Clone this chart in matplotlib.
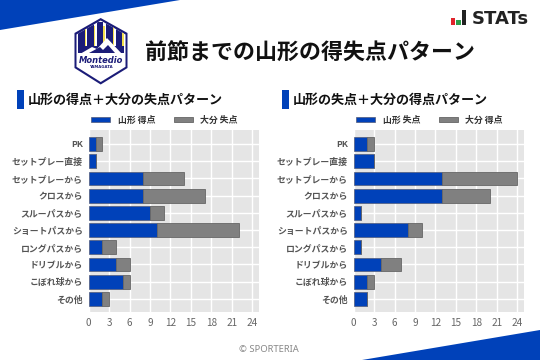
import numpy as np
from matplotlib import pyplot as plt
from matplotlib import patches as mpatches

plt.rcParams['font.family'] = ['Noto Sans CJK JP', 'DejaVu Sans']

W, H = 540, 360
BLUE = '#0041b9'
GRAY = '#808080'
NAVY = '#1b1c78'

categories = ['PK', 'セットプレー直接', 'セットプレーから', 'クロスから', 'スルーパスから',
              'ショートパスから', 'ロングパスから', 'ドリブルから', 'こぼれ球から', 'その他']
xticks = [0, 3, 6, 9, 12, 15, 18, 21, 24]

yamagata_scored = [1, 1, 8, 8, 9, 10, 2, 4, 5, 2]
oita_conceded = [1, 0, 6, 9, 2, 12, 2, 2, 1, 1]
yamagata_conceded = [2, 3, 13, 13, 1, 8, 1, 4, 2, 2]
oita_scored = [1, 0, 11, 7, 0, 2, 0, 3, 1, 0]


def px_axes(fig, x0, y0, x1, y1):
    # axes from pixel box, y counted from the top of the image
    return fig.add_axes([x0 / W, 1 - y1 / H, (x1 - x0) / W, (y1 - y0) / H])


def draw_panel(fig, box, blue_vals, gray_vals, blue_label, gray_label):
    ax = px_axes(fig, *box)
    ax.set_facecolor('#e5e5e5')
    y = np.arange(len(categories))
    ax.barh(y, blue_vals, height=0.8, color=BLUE, edgecolor='#505a78', linewidth=0.5,
            label=blue_label, zorder=3)
    ax.barh(y, gray_vals, left=blue_vals, height=0.8, color=GRAY, edgecolor='#666666',
            linewidth=0.6, label=gray_label, zorder=3)
    ax.set_xlim(0, 25)
    ax.set_ylim(9.73, -0.84)
    ax.set_xticks(xticks)
    ax.set_yticks(y, categories)
    ax.grid(color='white', linewidth=1.0, zorder=1)
    ax.set_axisbelow(True)
    ax.tick_params(axis='x', length=0, labelsize=7.2, labelcolor='#666666', pad=4.5)
    ax.tick_params(axis='y', length=0, labelsize=6.4, labelcolor='#555555', pad=4.2)
    for lab in ax.get_yticklabels():
        lab.set_fontweight('bold')
    for s in ax.spines.values():
        s.set_visible(False)
    ax.legend(loc='lower left', bbox_to_anchor=(0.0, 1.012), ncol=2, frameon=False,
              prop={'size': 6.4, 'weight': 'bold'}, labelcolor='#333333',
              handlelength=2.15, handleheight=0.55, handletextpad=0.8, columnspacing=2.1,
              borderaxespad=0.1, borderpad=0.2)
    return ax


def draw_decor(bg):
    # corner wedges
    bg.add_patch(mpatches.Polygon([(0, 0), (180, 0), (0, 30)], color=BLUE, lw=0))
    bg.add_patch(mpatches.Polygon([(362, 360), (540, 330), (540, 360)], color=BLUE, lw=0))

    # club crest
    hex_out = [(100.7, 18), (127.5, 33), (127.5, 68), (100.7, 84.5), (74.5, 68), (74.5, 33)]
    hex_in = [(100.7, 20.5), (125.5, 34.5), (125.5, 66.8), (100.7, 82), (76.5, 66.8), (76.5, 34.5)]
    bg.add_patch(mpatches.Polygon(hex_out, color=NAVY, lw=0))
    inner = mpatches.Polygon(hex_in, color='white', lw=0)
    bg.add_patch(inner)
    for x in [78, 87, 96.5, 106, 115.5]:
        navy = mpatches.Rectangle((x, 22), 6.5, 30, color=NAVY, lw=0)
        bg.add_patch(navy)
        navy.set_clip_path(inner)
        yellow = mpatches.Rectangle((x + 6.5, 26), 1.8, 24, color='#f4e04d', lw=0)
        bg.add_patch(yellow)
        yellow.set_clip_path(inner)
    bg.add_patch(mpatches.Polygon([(78, 46), (124, 46), (124, 53), (78, 53)], color=NAVY, lw=0))
    bg.add_patch(mpatches.Polygon([(80, 54), (92, 47), (97, 49), (107, 38), (122, 54)],
                                  color='white', lw=0))
    bg.add_patch(mpatches.Polygon([(89, 53), (100, 47), (103, 50), (108, 45), (115, 53)],
                                  color=NAVY, lw=0))
    bg.text(100.7, 60.5, 'Montedio', ha='center', va='center', fontsize=6.0, color=NAVY,
            fontweight='bold', style='italic', family='DejaVu Sans')
    bg.text(100.7, 67.5, 'YAMAGATA', ha='center', va='center', fontsize=2.8, color=NAVY,
            fontweight='bold', family='DejaVu Sans')

    # STATs mark
    bg.add_patch(mpatches.Rectangle((450.5, 17.5), 4.5, 7, color='#e0242c', lw=0))
    bg.add_patch(mpatches.Rectangle((456, 20), 4.5, 4.5, color='#2a9d4a', lw=0))
    bg.add_patch(mpatches.Rectangle((461.5, 10), 4.5, 14.5, color='#222222', lw=0))
    bg.text(471.5, 24.5, 'STATs', ha='left', va='baseline', fontsize=13, color='#222222',
            fontweight='bold', family='DejaVu Sans')

    # titles
    bg.text(145, 53, '前節までの山形の得失点パターン', ha='left', va='center', fontsize=15.8,
            fontweight='bold', color='#111111')
    for x_bar, x_txt, txt in [(17, 28, '山形の得点＋大分の失点パターン'),
                              (282, 293, '山形の失点＋大分の得点パターン')]:
        bg.add_patch(mpatches.Rectangle((x_bar, 90), 7, 19, color=BLUE, lw=0))
        bg.text(x_txt, 99.5, txt, ha='left', va='center', fontsize=9.4, fontweight='bold',
                color='#111111')
    bg.text(269, 350, '© SPORTERIA', ha='center', va='center', fontsize=6.8, color='#888888',
            family='Noto Sans')


if __name__ == '__main__':
    fig = plt.figure(figsize=(W / 100, H / 100), dpi=100, facecolor='white')

    bg = fig.add_axes([0, 0, 1, 1])
    bg.set_xlim(0, W)
    bg.set_ylim(H, 0)
    bg.axis('off')
    draw_decor(bg)

    draw_panel(fig, (88.7, 129.5, 259, 311.5), yamagata_scored, oita_conceded, '山形 得点', '大分 失点')
    draw_panel(fig, (353.7, 129.5, 524, 311.5), yamagata_conceded, oita_scored, '山形 失点', '大分 得点')

    fig.savefig('out.png', dpi=100)
